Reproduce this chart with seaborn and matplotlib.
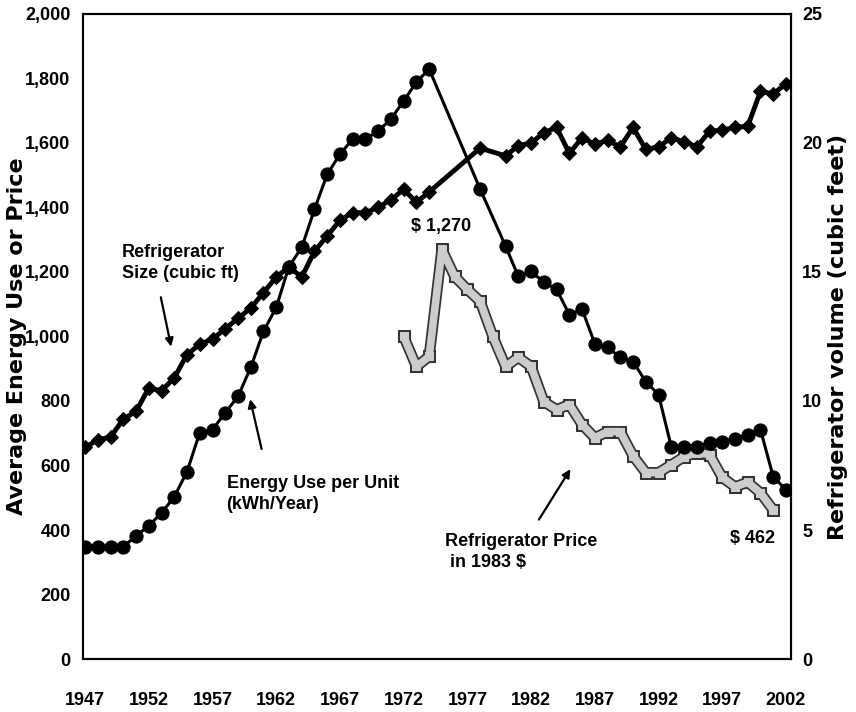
import numpy as np
import pandas as pd
import matplotlib
matplotlib.use("Agg")
import matplotlib.pyplot as plt
from matplotlib import font_manager
import seaborn as sns

# data
energy_years = list(range(1947, 1975)) + [1978] + list(range(1980, 2003))
energy_kwh = [348, 348, 348, 348, 382, 413, 453, 503, 581, 702, 711, 764, 814, 904,
              1016, 1090, 1217, 1276, 1394, 1503, 1565, 1612, 1612, 1637, 1674, 1730,
              1789, 1829,
              1457,
              1280, 1186, 1202, 1168, 1146, 1068, 1084, 978, 966, 935, 922, 860, 820,
              658, 658, 658, 670, 674, 683, 696, 711, 565, 525]

size_years = list(range(1947, 1975)) + [1978] + list(range(1980, 2003))
size_cuft = [8.2, 8.5, 8.6, 9.3, 9.6, 10.5, 10.4, 10.9, 11.8, 12.2, 12.4, 12.8, 13.2, 13.6,
             14.2, 14.8, 15.2, 14.8, 15.8, 16.4, 17.0, 17.3, 17.3, 17.5, 17.8, 18.2,
             17.7, 18.1,
             19.8,
             19.5, 19.9, 20.0, 20.4, 20.6, 19.6, 20.2, 19.95, 20.1, 19.85, 20.6, 19.75,
             19.85, 20.2, 20.05, 19.85, 20.45, 20.5, 20.6, 20.65, 22.0, 21.9, 22.3]

price_years = list(range(1972, 2002))
price_1983 = [1000, 907, 938, 1270, 1186, 1146, 1109, 1000, 907, 935, 907, 798, 773, 789,
              727, 686, 705, 705, 630, 578, 578, 602, 627, 640, 634, 563, 534, 548, 515, 462]

x_ticks = list(range(1947, 2003, 5))
left_ticks = list(range(0, 2001, 200))
right_ticks = [0, 5, 10, 15, 20, 25]

energy = pd.DataFrame({"year": energy_years, "kwh": energy_kwh})
size = pd.DataFrame({"year": size_years, "cuft": size_cuft})
price = pd.DataFrame({"year": price_years, "usd": price_1983})

sns.set_theme(style="white")
installed = {f.name for f in font_manager.fontManager.ttflist}
if "Liberation Sans Narrow" in installed:
    narrow = ["Liberation Sans Narrow", "DejaVu Sans"]
    fs = 15
else:
    narrow = ["Liberation Sans", "DejaVu Sans"]
    fs = 13
plt.rcParams["font.family"] = narrow
for k in ("text.color", "axes.labelcolor", "xtick.color", "ytick.color"):
    plt.rcParams[k] = "black"

fig = plt.figure(figsize=(8.56, 7.12), dpi=100)
ax = fig.add_axes([0.097, 0.0744, 0.827, 0.906])
ax2 = ax.twinx()

# price ribbon: dark outline underneath, light gray band on top
sns.lineplot(data=price, x="year", y="usd", ax=ax, color="#333333", lw=8,
             marker="s", markersize=8, markeredgecolor="#333333")
sns.lineplot(data=price, x="year", y="usd", ax=ax, color="#cccccc", lw=5.5,
             marker="s", markersize=5.5, markeredgecolor="#cccccc")
# energy use
sns.lineplot(data=energy, x="year", y="kwh", ax=ax, color="black", lw=2.2,
             marker="o", markersize=9.5, markeredgecolor="black")
# size (right axis)
sns.lineplot(data=size, x="year", y="cuft", ax=ax2, color="black", lw=3.5,
             marker="D", markersize=7, markeredgecolor="black")

ax.set_xlim(1946.84, 2002.39)
ax.set_ylim(0, 2000)
ax2.set_ylim(0, 25)

ax.set_xticks(x_ticks)
ax.set_xticklabels([str(y) for y in x_ticks], fontsize=fs, fontweight="bold")
ax.set_yticks(left_ticks)
ax.set_yticklabels([f"{v:,}" for v in left_ticks], fontsize=fs, fontweight="bold")
ax2.set_yticks(right_ticks)
ax2.set_yticklabels([str(v) for v in right_ticks], fontsize=fs, fontweight="bold")
ax.tick_params(axis="x", length=0, pad=24)
ax.tick_params(axis="y", length=0, pad=9)
ax2.tick_params(axis="y", length=0, pad=8)

ax.set_xlabel("")
ax.set_ylabel("Average Energy Use or Price", fontsize=16, fontweight="bold",
              family=["DejaVu Sans"])
ax2.set_ylabel("Refrigerator volume (cubic feet)", fontsize=16, fontweight="bold",
               family=["DejaVu Sans"])
ax.yaxis.set_label_coords(-0.079, 0.5)
ax2.yaxis.set_label_coords(1.052, 0.5)

for a in (ax, ax2):
    for s in a.spines.values():
        s.set_color("black")
        s.set_linewidth(1.5)
ax.grid(False)
ax2.grid(False)

arrow = dict(arrowstyle="-|>", color="black", lw=1.6, mutation_scale=12)
ax.text(1949.9, 1286, "Refrigerator\nSize (cubic ft)", ha="left", va="top",
        fontsize=fs, fontweight="bold", linespacing=1.3)
ax.annotate("", xy=(1953.8, 960), xytext=(1952.9, 1130), arrowprops=arrow)
ax.text(1958.1, 571, "Energy Use per Unit\n(kWh/Year)", ha="left", va="top",
        fontsize=fs, fontweight="bold", linespacing=1.3)
ax.annotate("", xy=(1959.9, 814), xytext=(1960.9, 643), arrowprops=arrow)
ax.text(1975.25, 391, "Refrigerator Price\n in 1983 $", ha="left", va="top",
        fontsize=fs, fontweight="bold", linespacing=1.3)
ax.annotate("", xy=(1985.2, 596), xytext=(1982.5, 425), arrowprops=arrow)
ax.text(1974.93, 1342, "$ 1,270", ha="center", va="center", fontsize=fs, fontweight="bold")
ax.text(1999.35, 373, "$ 462", ha="center", va="center", fontsize=fs, fontweight="bold")

fig.savefig("out.png", dpi=100)
